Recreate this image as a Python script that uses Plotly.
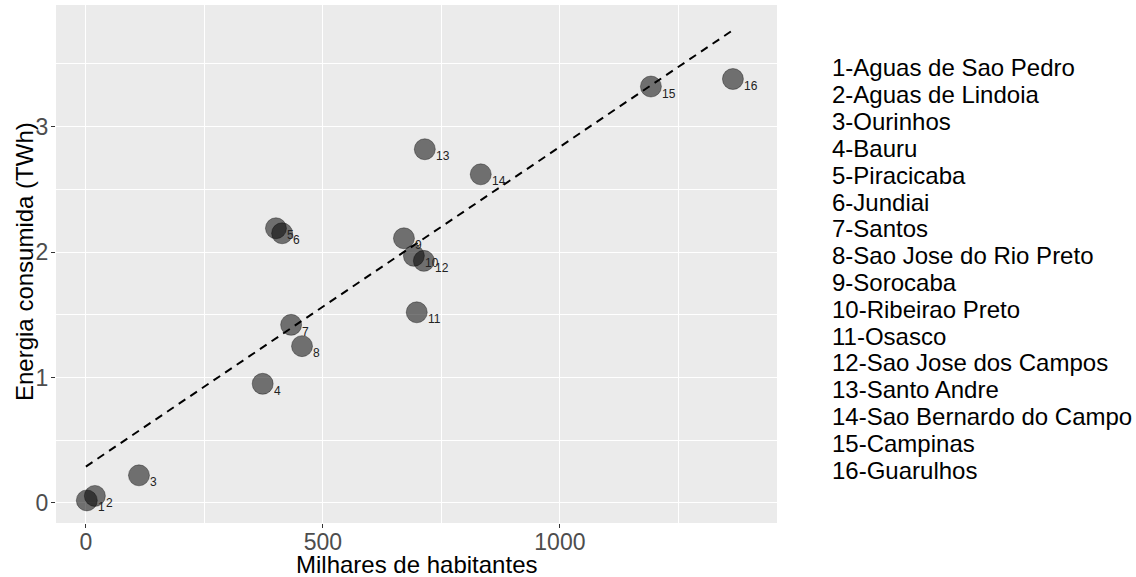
import plotly.graph_objects as go

ids = list(range(1, 17))
cities = ["Aguas de Sao Pedro", "Aguas de Lindoia", "Ourinhos", "Bauru", "Piracicaba",
          "Jundiai", "Santos", "Sao Jose do Rio Preto", "Sorocaba", "Ribeirao Preto",
          "Osasco", "Sao Jose dos Campos", "Santo Andre", "Sao Bernardo do Campo",
          "Campinas", "Guarulhos"]
habitantes = [2, 19, 112, 373, 401, 414, 433, 456, 671, 692, 698, 713, 715, 833, 1192, 1365]
energia = [0.02, 0.056, 0.22, 0.95, 2.19, 2.15, 1.42, 1.25, 2.11, 1.97, 1.52, 1.93, 2.82, 2.62, 3.32, 3.38]
trend_x = [0, 1365]
trend_y = [0.29, 3.77]

FONT = "Liberation Sans, Arial, sans-serif"
W, H = 1136, 577
ml, mr, mt, mb = 56, 359, 5, 54
pw, ph = W - ml - mr, H - mt - mb


def px2paper(px, py):
    return (px - ml) / pw, 1 - (py - mt) / ph


fig = go.Figure()
fig.add_trace(go.Scatter(
    x=trend_x, y=trend_y, mode="lines",
    line=dict(color="black", width=2, dash="8px,6px"),
    hoverinfo="skip", showlegend=False))
fig.add_trace(go.Scatter(
    x=habitantes, y=energia, mode="markers",
    marker=dict(size=21, color="rgba(0,0,0,0.53)",
                line=dict(color="rgba(0,0,0,0.35)", width=1)),
    showlegend=False))

for i, xv, yv in zip(ids, habitantes, energia):
    fig.add_annotation(x=xv, y=yv, text=str(i), showarrow=False,
                       xanchor="left", yanchor="middle", xshift=9, yshift=-7,
                       font=dict(family=FONT, size=12, color="#222222"))

for k, (i, c) in enumerate(zip(ids, cities)):
    ax, ay = px2paper(830, 68 + k * 26.8)
    fig.add_annotation(x=ax, y=ay, xref="paper", yref="paper",
                       text=f"{i}-{c}", showarrow=False,
                       xanchor="left", yanchor="middle",
                       font=dict(family=FONT, size=24, color="black"))

# axis titles
tx, ty = px2paper(416, 564)
fig.add_annotation(x=tx, y=ty, xref="paper", yref="paper", text="Milhares de habitantes",
                   showarrow=False, xanchor="center", yanchor="middle",
                   font=dict(family=FONT, size=24, color="black"))
tx, ty = px2paper(24, 262)
fig.add_annotation(x=tx, y=ty, xref="paper", yref="paper", text="Energia consumida (TWh)",
                   showarrow=False, xanchor="center", yanchor="middle", textangle=-90,
                   font=dict(family=FONT, size=24, color="black"))

fig.update_layout(
    width=W, height=H,
    margin=dict(l=ml, r=mr, t=mt, b=mb, autoexpand=False),
    paper_bgcolor="white", plot_bgcolor="#EBEBEB",
    font=dict(family=FONT),
    showlegend=False,
    xaxis=dict(range=[-63, 1458], tickvals=[0, 500, 1000], ticktext=["0", "500", "1000"],
               showgrid=True, gridcolor="white", gridwidth=1.2, zeroline=False,
               ticks="outside", ticklen=4, tickcolor="#333333", tickwidth=1,
               tickfont=dict(family=FONT, size=23, color="#4D4D4D"),
               ticklabelstandoff=-6,
               minor=dict(tickvals=[250, 750, 1250], showgrid=True, gridcolor="white", gridwidth=0.6),
               automargin=False, showline=False),
    yaxis=dict(range=[-0.16, 3.97], tickvals=[0, 1, 2, 3], ticktext=["0", "1", "2", "3"],
               showgrid=True, gridcolor="white", gridwidth=1.2, zeroline=False,
               ticks="outside", ticklen=4, tickcolor="#333333", tickwidth=1,
               tickfont=dict(family=FONT, size=23, color="#4D4D4D"),
               ticklabelstandoff=-2,
               minor=dict(tickvals=[0.5, 1.5, 2.5, 3.5], showgrid=True, gridcolor="white", gridwidth=0.6),
               automargin=False, showline=False),
)

fig.write_html("out.html", config={"displayModeBar": False},
               post_script="document.body.style.margin='0';")
